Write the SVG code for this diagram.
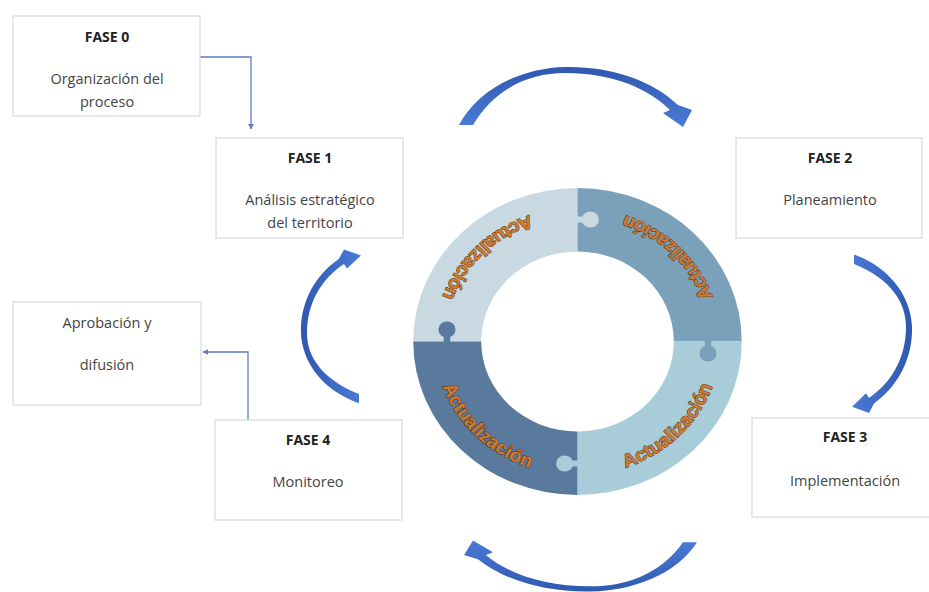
<svg xmlns="http://www.w3.org/2000/svg" width="929" height="592" viewBox="0 0 929 592">
<style>
.box{fill:#ffffff;stroke:#d6d9df;stroke-width:1.2}
.t{font-family:"Open Sans","Liberation Sans",sans-serif;font-size:14.5px;fill:#444;text-anchor:middle}
.b{font-family:"Open Sans","Liberation Sans",sans-serif;font-size:14px;font-weight:bold;fill:#222;text-anchor:middle}
.conn{fill:none;stroke:#5a7ec2;stroke-width:1.3}
.arr{fill:url(#ag)}
.act{font-family:"Liberation Sans",sans-serif;font-size:18.5px;font-weight:bold;fill:#d27a2c;stroke:#4a2a0e;stroke-width:0.9;paint-order:stroke;text-anchor:middle}
</style>
<defs>
<marker id="ah" viewBox="0 0 10 10" refX="9" refY="5" markerWidth="6" markerHeight="6" orient="auto" markerUnits="userSpaceOnUse">
<path d="M0,0 L10,5 L0,10 Z" fill="#5a7ec2"/>
</marker>
<linearGradient id="ag" x1="0" y1="0" x2="0" y2="1">
<stop offset="0" stop-color="#2f58b0"/>
<stop offset="1" stop-color="#4a7bd6"/>
</linearGradient>
<path id="carrow" d="M -111,1 C -90,-38 -45,-56 -5,-57 C 40,-58 82,-44 108,-19 L 122,-14 L 113,3 L 93,-11 L 100,-14 C 78,-36 42,-51 -5,-51 C -40,-51 -75,-36 -97,1 Z"/>
<path id="pTL" d="M 0,-134 A 134 134 0 0 0 -134,0"/>
<path id="pTR" d="M 134,0 A 134 134 0 0 0 0,-134"/>
<path id="pBR" d="M 0,134 A 134 134 0 0 0 134,0"/>
<path id="pBL" d="M -134,0 A 134 134 0 0 0 0,134"/>
</defs>

<g id="connectors">
<path class="conn" d="M 200,57 H 251 V 129" marker-end="url(#ah)"/>
<path class="conn" d="M 248,420 V 352 H 203" marker-end="url(#ah)"/>
</g>

<g id="cycle-arrows">
<use href="#carrow" class="arr" transform="translate(570,124)"/>
<use href="#carrow" class="arr" transform="translate(855,330) rotate(90) scale(0.68,1)"/>
<use href="#carrow" class="arr" transform="translate(586,543) rotate(180) scale(1,0.85)"/>
<use href="#carrow" class="arr" transform="translate(358,330) rotate(-90) scale(0.66,1)"/>
</g>

<g id="ring" transform="translate(577.5,341.5) scale(1.07,1)">
<path fill="#c9d9e2" d="M -153.5,0 A 153.5 153.5 0 0 1 0,-153.5 L 0,-90 A 90 90 0 0 0 -90,0 Z"/>
<path fill="#7ba1ba" d="M 0,-153.5 A 153.5 153.5 0 0 1 153.5,0 L 90,0 A 90 90 0 0 0 0,-90 Z"/>
<path fill="#a8cdd9" d="M 153.5,0 A 153.5 153.5 0 0 1 0,153.5 L 0,90 A 90 90 0 0 0 90,0 Z"/>
<path fill="#5a7a9d" d="M 0,153.5 A 153.5 153.5 0 0 1 -153.5,0 L -90,0 A 90 90 0 0 0 0,90 Z"/>
<g fill="#c9d9e2"><circle cx="12" cy="-122" r="8"/><rect x="-1" y="-125" width="7" height="6"/></g>
<g fill="#7ba1ba"><circle cx="122" cy="12" r="8"/><rect x="119" y="-1" width="6" height="7"/></g>
<g fill="#a8cdd9"><circle cx="-12" cy="122" r="8"/><rect x="-6" y="119" width="7" height="6"/></g>
<g fill="#5a7a9d"><circle cx="-122" cy="-12" r="8"/><rect x="-125" y="-6" width="6" height="7"/></g>
<text class="act"><textPath href="#pTL" startOffset="50%">Actualización</textPath></text>
<text class="act"><textPath href="#pTR" startOffset="50%">Actualización</textPath></text>
<text class="act"><textPath href="#pBR" startOffset="50%">Actualización</textPath></text>
<text class="act"><textPath href="#pBL" startOffset="50%">Actualización</textPath></text>
</g>

<g id="fase0">
<rect class="box" x="13" y="16" width="187" height="100"/>
<text class="b" x="107" y="42">FASE 0</text>
<text class="t" x="107" y="84">Organización del</text>
<text class="t" x="107" y="107">proceso</text>
</g>
<g id="fase1">
<rect class="box" x="216" y="138" width="187" height="100"/>
<text class="b" x="310" y="163">FASE 1</text>
<text class="t" x="310" y="205">Análisis estratégico</text>
<text class="t" x="310" y="228">del territorio</text>
</g>
<g id="fase2">
<rect class="box" x="736" y="138" width="186" height="100"/>
<text class="b" x="830" y="163">FASE 2</text>
<text class="t" x="830" y="205">Planeamiento</text>
</g>
<g id="aprobacion">
<rect class="box" x="13" y="302" width="188" height="103"/>
<text class="t" x="107" y="328">Aprobación y</text>
<text class="t" x="107" y="370">difusión</text>
</g>
<g id="fase4">
<rect class="box" x="215" y="420" width="187" height="100"/>
<text class="b" x="308" y="445">FASE 4</text>
<text class="t" x="308" y="487">Monitoreo</text>
</g>
<g id="fase3">
<rect class="box" x="752" y="418" width="182" height="99"/>
<text class="b" x="845" y="442">FASE 3</text>
<text class="t" x="845" y="486">Implementación</text>
</g>
</svg>
